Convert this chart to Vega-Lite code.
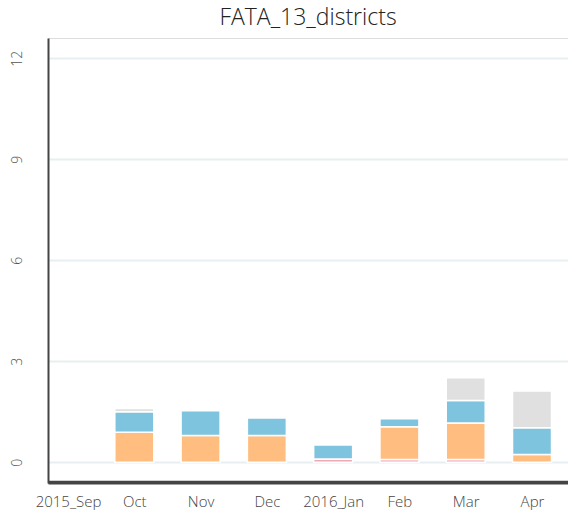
{
  "$schema": "https://vega.github.io/schema/vega-lite/v6.json",
  "autosize": "none",
  "width": 520,
  "height": 445,
  "padding": {"left": 48, "top": 38, "right": 0, "bottom": 36},
  "background": "white",
  "title": {"text": "FATA_13_districts", "fontSize": 23, "font": "Open Sans", "fontWeight": 300, "color": "#222", "anchor": "middle", "offset": 8},
  "layer": [
    {
      "data": {"values": [
        {"idx": 1, "month": "Oct", "series": "s2", "value": 0.89},
        {"idx": 1, "month": "Oct", "series": "s3", "value": 0.61},
        {"idx": 1, "month": "Oct", "series": "s4", "value": 0.09},
        {"idx": 2, "month": "Nov", "series": "s2", "value": 0.79},
        {"idx": 2, "month": "Nov", "series": "s3", "value": 0.74},
        {"idx": 3, "month": "Dec", "series": "s2", "value": 0.79},
        {"idx": 3, "month": "Dec", "series": "s3", "value": 0.52},
        {"idx": 4, "month": "2016_Jan", "series": "s1", "value": 0.09},
        {"idx": 4, "month": "2016_Jan", "series": "s3", "value": 0.42},
        {"idx": 5, "month": "Feb", "series": "s1", "value": 0.08},
        {"idx": 5, "month": "Feb", "series": "s2", "value": 0.97},
        {"idx": 5, "month": "Feb", "series": "s3", "value": 0.24},
        {"idx": 6, "month": "Mar", "series": "s1", "value": 0.08},
        {"idx": 6, "month": "Mar", "series": "s2", "value": 1.08},
        {"idx": 6, "month": "Mar", "series": "s3", "value": 0.67},
        {"idx": 6, "month": "Mar", "series": "s4", "value": 0.68},
        {"idx": 7, "month": "Apr", "series": "s2", "value": 0.23},
        {"idx": 7, "month": "Apr", "series": "s3", "value": 0.79},
        {"idx": 7, "month": "Apr", "series": "s4", "value": 1.09}
      ]},
      "mark": {"type": "bar", "width": 39, "stroke": "white", "strokeWidth": 1.5},
      "encoding": {
        "x": {
          "field": "idx", "type": "quantitative",
          "scale": {"domain": [-0.302, 7.543], "nice": false, "zero": false, "padding": 0},
          "axis": {"title": null, "values": [0, 1, 2, 3, 4, 5, 6, 7], "labelExpr": "['2015_Sep','Oct','Nov','Dec','2016_Jan','Feb','Mar','Apr'][datum.value]", "labelAngle": 0, "labelFlush": false, "labelOverlap": false, "ticks": false, "grid": false, "domain": true, "domainColor": "#444", "domainWidth": 2, "labelColor": "#444", "labelFontSize": 15, "labelFont": "Open Sans", "labelFontWeight": 300, "labelPadding": 11}
        },
        "y": {
          "field": "value", "type": "quantitative", "aggregate": "sum", "stack": "zero",
          "scale": {"domain": [-0.62, 12.6], "nice": false, "zero": false},
          "axis": {"title": null, "values": [0, 3, 6, 9, 12], "ticks": false, "grid": true, "gridColor": "#e8eff2", "gridWidth": 2, "domainColor": "#444", "domainWidth": 2, "labelColor": "#555", "labelFontSize": 14, "labelFont": "Open Sans", "labelFontWeight": 300, "labelAngle": 270, "labelAlign": "center", "labelBaseline": "bottom", "labelPadding": 24}
        },
        "color": {
          "field": "series", "type": "nominal", "legend": null,
          "scale": {"domain": ["s1", "s2", "s3", "s4"], "range": ["#f2a7b5", "#ffbe80", "#7ec4de", "#e0e0e0"]}
        },
        "order": {"field": "series", "sort": "ascending"}
      }
    },
    {
      "data": {"values": [{"base": -0.59}]},
      "mark": {"type": "rule", "color": "#444", "strokeWidth": 2.5},
      "encoding": {
        "y": {"field": "base", "type": "quantitative"}
      }
    }
  ]
}
